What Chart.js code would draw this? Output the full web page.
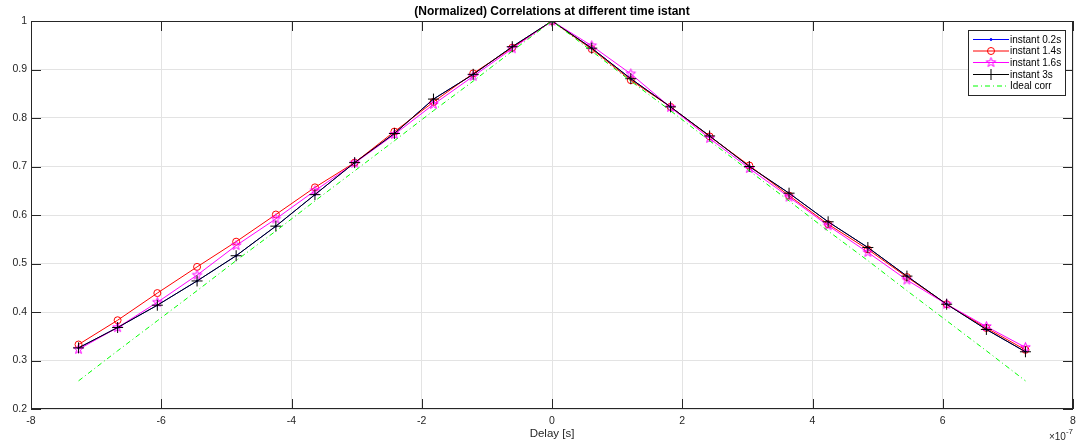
<!DOCTYPE html>
<html>
<head>
<meta charset="utf-8">
<script src="https://cdn.jsdelivr.net/npm/chart.js@4.4.1/dist/chart.umd.min.js"></script>
<style>
html,body{margin:0;padding:0;background:#fff;}
canvas{display:block;}
</style>
</head>
<body>
<canvas id="c" width="1088" height="446"></canvas>
<script>
// ---- data (x in units of 1e-7 s) ----
const delays = [-7.27,-6.67,-6.06,-5.45,-4.85,-4.24,-3.64,-3.03,-2.42,-1.82,-1.21,-0.61,0,0.61,1.21,1.82,2.42,3.03,3.64,4.24,4.85,5.45,6.06,6.67,7.27];
const inst02 = [0.326,0.368,0.414,0.464,0.516,0.577,0.642,0.708,0.768,0.839,0.890,0.947,1,0.944,0.881,0.823,0.763,0.700,0.645,0.586,0.533,0.474,0.416,0.364,0.318];
const inst14 = [0.333,0.383,0.439,0.493,0.545,0.601,0.657,0.708,0.772,0.833,0.892,0.945,1,0.942,0.878,0.823,0.762,0.702,0.640,0.581,0.529,0.472,0.416,0.367,0.322];
const inst16 = [0.323,0.368,0.420,0.476,0.537,0.592,0.650,0.707,0.766,0.828,0.886,0.943,1,0.949,0.891,0.822,0.758,0.696,0.637,0.578,0.523,0.466,0.416,0.370,0.327];
const inst3  = [0.326,0.368,0.414,0.464,0.516,0.577,0.642,0.708,0.768,0.839,0.890,0.947,1,0.944,0.881,0.823,0.763,0.700,0.645,0.586,0.533,0.474,0.416,0.364,0.318];
const ideal  = [0.258,0.320,0.382,0.444,0.506,0.567,0.629,0.691,0.753,0.815,0.876,0.938,1,0.938,0.876,0.815,0.753,0.691,0.629,0.567,0.506,0.444,0.382,0.320,0.258];
const seriesNames = ['instant 0.2s','instant 1.4s','instant 1.6s','instant 3s','Ideal corr'];
const xTickValues = [-8,-6,-4,-2,0,2,4,6,8];
const yTickValues = [0.2,0.3,0.4,0.5,0.6,0.7,0.8,0.9,1];
const titleText = '(Normalized) Correlations at different time istant';
const xLabelText = 'Delay [s]';

const FONT = '"Liberation Sans", Arial, Helvetica, sans-serif';
const AXC = '#262626';

// pentagram marker
function makeStar(color, r){
  const s = Math.ceil(r*2+3);
  const cv = document.createElement('canvas');
  cv.width = s; cv.height = s;
  const g = cv.getContext('2d');
  const cx = s/2, cy = s/2;
  g.beginPath();
  for(let i=0;i<10;i++){
    const a = -Math.PI/2 + i*Math.PI/5;
    const rr = (i%2===0)? r : r*0.4;
    const px = cx + rr*Math.cos(a), py = cy + rr*Math.sin(a);
    if(i===0) g.moveTo(px,py); else g.lineTo(px,py);
  }
  g.closePath();
  g.strokeStyle = color; g.lineWidth = 1; g.stroke();
  return cv;
}
const starImg = makeStar('#ff00ff', 5);

function pts(arr){ return delays.map((x,i)=>({x:x,y:arr[i]})); }

const datasets = [
  {label:seriesNames[0], data:pts(inst02), borderColor:'#0000ff', backgroundColor:'#0000ff', borderWidth:1,
   pointStyle:'circle', pointRadius:1, pointBorderWidth:1, order:5},
  {label:seriesNames[1], data:pts(inst14), borderColor:'#ff0000', backgroundColor:'rgba(0,0,0,0)', borderWidth:1,
   pointStyle:'circle', pointRadius:3.5, pointBorderWidth:1, pointBackgroundColor:'rgba(0,0,0,0)', order:4},
  {label:seriesNames[2], data:pts(inst16), borderColor:'#ff00ff', backgroundColor:'rgba(0,0,0,0)', borderWidth:1,
   pointStyle:starImg, pointRadius:5, pointBorderWidth:1, order:3},
  {label:seriesNames[3], data:pts(inst3), borderColor:'#000000', backgroundColor:'#000000', borderWidth:1,
   pointStyle:'cross', pointRadius:5.5, pointBorderWidth:1, order:2},
  {label:seriesNames[4], data:pts(ideal), borderColor:'#00ff00', backgroundColor:'#00ff00', borderWidth:1,
   borderDash:[5,3,1,3], pointRadius:0, order:1}
];

const decor = {
  id:'decor',
  afterDraw(chart){
    const ctx = chart.ctx;
    const a = chart.chartArea;
    const xs = chart.scales.x, ys = chart.scales.y;
    ctx.save();
    // box
    ctx.strokeStyle = AXC; ctx.lineWidth = 1;
    ctx.strokeRect(Math.round(a.left)+0.5, Math.round(a.top)+0.5, Math.round(a.right-a.left)-1, Math.round(a.bottom-a.top)-1);
    // ticks
    const TL = 10;
    ctx.beginPath();
    xTickValues.forEach(v=>{
      const px = Math.round(xs.getPixelForValue(v))+0.5;
      ctx.moveTo(px, a.bottom); ctx.lineTo(px, a.bottom-TL);
      ctx.moveTo(px, a.top); ctx.lineTo(px, a.top+TL);
    });
    yTickValues.forEach(v=>{
      const py = Math.round(ys.getPixelForValue(v))+0.5;
      ctx.moveTo(a.left, py); ctx.lineTo(a.left+TL, py);
      ctx.moveTo(a.right, py); ctx.lineTo(a.right-TL, py);
    });
    ctx.stroke();
    // title
    ctx.fillStyle = '#000';
    ctx.font = 'bold 12px ' + FONT;
    ctx.textAlign = 'center'; ctx.textBaseline = 'middle';
    ctx.fillText(titleText, (a.left+a.right)/2, 11.5);
    // x label
    ctx.fillStyle = AXC;
    ctx.font = '11.5px ' + FONT;
    ctx.fillText(xLabelText, (a.left+a.right)/2, 434);
    // exponent
    ctx.textAlign = 'right';
    ctx.font = '8px ' + FONT;
    ctx.fillText('-7', a.right, 432);
    const w7 = ctx.measureText('-7').width;
    ctx.font = '10px ' + FONT;
    ctx.fillText('\u00d710', a.right - w7, 437);
    // legend
    const L = {x:968.5, y:30.5, w:97, h:65};
    ctx.fillStyle = '#fff';
    ctx.fillRect(L.x, L.y, L.w, L.h);
    ctx.strokeStyle = AXC; ctx.lineWidth = 1;
    ctx.strokeRect(L.x, L.y, L.w, L.h);
    const rowY = [39.5, 51, 62.5, 74.5, 86];
    chart.data.datasets.forEach((ds,i)=>{
      const y = rowY[i];
      ctx.save();
      ctx.strokeStyle = ds.borderColor; ctx.lineWidth = 1;
      if(ds.borderDash) ctx.setLineDash(ds.borderDash);
      ctx.beginPath(); ctx.moveTo(973, y); ctx.lineTo(1009, y); ctx.stroke();
      ctx.restore();
      if(ds.pointRadius>0){
        ctx.save();
        ctx.strokeStyle = ds.borderColor;
        ctx.fillStyle = ds.pointBackgroundColor || ds.borderColor;
        ctx.lineWidth = 1;
        Chart.helpers.drawPoint(ctx, {pointStyle:ds.pointStyle, radius:ds.pointRadius, rotation:0, borderWidth:1}, 991, y);
        ctx.restore();
      }
      ctx.fillStyle = '#000';
      ctx.font = '10px ' + FONT;
      ctx.textAlign = 'left'; ctx.textBaseline = 'middle';
      ctx.fillText(ds.label, 1010, y+0.5);
    });
    ctx.restore();
  }
};

new Chart(document.getElementById('c'), {
  type:'line',
  data:{datasets:datasets},
  options:{
    responsive:false, animation:false, devicePixelRatio:1,
    layout:{padding:{top:21, right:15, left:0, bottom:0}},
    plugins:{legend:{display:false}, title:{display:false}, tooltip:{enabled:false}},
    elements:{line:{tension:0}},
    scales:{
      x:{type:'linear', min:-8, max:8,
         afterFit(s){ s.height = 37; },
         afterBuildTicks(s){ s.ticks = xTickValues.map(v=>({value:v})); },
         grid:{color:'#e3e3e3', drawTicks:false},
         border:{display:false},
         ticks:{padding:6, color:AXC, font:{family:FONT, size:10.5}, maxRotation:0, autoSkip:false,
                callback:(v)=>String(v)}},
      y:{type:'linear', min:0.2, max:1,
         afterFit(s){ s.width = 31; },
         afterBuildTicks(s){ s.ticks = yTickValues.map(v=>({value:v})); },
         grid:{color:'#e3e3e3', drawTicks:false},
         border:{display:false},
         ticks:{padding:4, color:AXC, font:{family:FONT, size:10.5}, autoSkip:false,
                callback:(v)=>String(Number(v.toFixed(1)))}}
    }
  },
  plugins:[decor]
});
</script>
</body>
</html>
